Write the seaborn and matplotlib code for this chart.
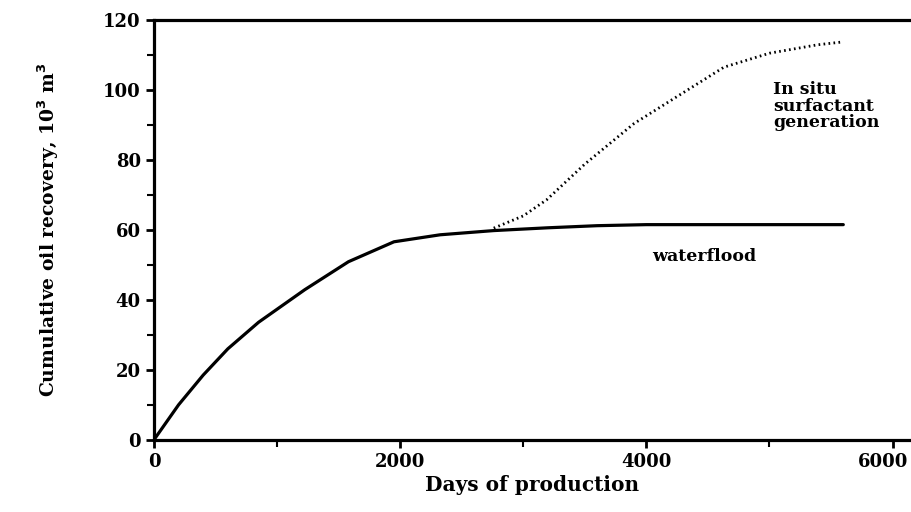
import pandas as pd
import matplotlib.pyplot as plt
import matplotlib.transforms as mtransforms
import seaborn as sns
from matplotlib.ticker import MultipleLocator

# INPUT VALUES
days_water = [0, 200, 400, 600, 850, 1225, 1580, 1950, 2325, 2760, 3200, 3600, 4000, 4800, 5600]
oil_water = [0, 10, 18.5, 26, 33.6, 42.9, 50.9, 56.6, 58.6, 59.8, 60.6, 61.2, 61.5, 61.5, 61.5]

days_situ = [2760, 3000, 3190, 3500, 3900, 4290, 4630, 5000, 5390, 5590]
oil_situ = [60.5, 64, 68.6, 78.8, 90.4, 99, 106.5, 110.5, 112.9, 113.7]

water = pd.DataFrame({"days": days_water, "oil": oil_water})
situ = pd.DataFrame({"days": days_situ, "oil": oil_situ})

sns.set_style("ticks")
plt.rcParams['font.family'] = ['DejaVu Serif']
plt.rcParams['font.weight'] = 'bold'
plt.rcParams['mathtext.default'] = 'bf'
plt.rcParams['text.color'] = 'black'
plt.rcParams['axes.labelcolor'] = 'black'
plt.rcParams['xtick.color'] = 'black'
plt.rcParams['ytick.color'] = 'black'

fig = plt.figure(figsize=(9.11, 5.12), dpi=100)
ax = fig.add_axes([0.169, 0.141, 0.831, 0.82])

sns.lineplot(x="days", y="oil", data=water, ax=ax, color="black", linewidth=2.3)
sns.lineplot(x="days", y="oil", data=situ, ax=ax, color="black", linewidth=2,
             linestyle=(0, (0.6, 1.2)))

ax.set_xlim(0, 6150)
ax.set_ylim(0, 120)
ax.set_xticks([0, 2000, 4000, 6000])
ax.set_yticks([0, 20, 40, 60, 80, 100, 120])
ax.xaxis.set_minor_locator(MultipleLocator(1000))
ax.yaxis.set_minor_locator(MultipleLocator(10))
ax.tick_params(axis="both", which="major", direction="out", length=6, width=2,
               labelsize=13)
ax.tick_params(axis="both", which="minor", direction="out", length=5, width=1.5)
for lab in ax.get_xticklabels() + ax.get_yticklabels():
    lab.set_fontweight("bold")
# keep the last x label inside the picture
last = ax.get_xticklabels()[-1]
last.set_transform(last.get_transform() +
                   mtransforms.ScaledTranslation(-9 / 100, 0, fig.dpi_scale_trans))

ax.spines["right"].set_visible(False)
for s in ["left", "top", "bottom"]:
    ax.spines[s].set_linewidth(2.3)
    ax.spines[s].set_color("black")

ax.set_xlabel("Days of production", fontsize=14.5, fontweight="bold", labelpad=3)
ax.set_ylabel("Cumulative oil recovery, 10$^3$ m$^3$", fontsize=13.5,
              fontweight="bold", labelpad=30)

ax.text(5030, 102.5, "In situ\nsurfactant\ngeneration", fontsize=12.5,
        fontweight="bold", va="top", ha="left", linespacing=0.95)
ax.text(4050, 52.5, "waterflood", fontsize=12.5, fontweight="bold", va="center",
        ha="left")

fig.savefig("out.png", dpi=100)
